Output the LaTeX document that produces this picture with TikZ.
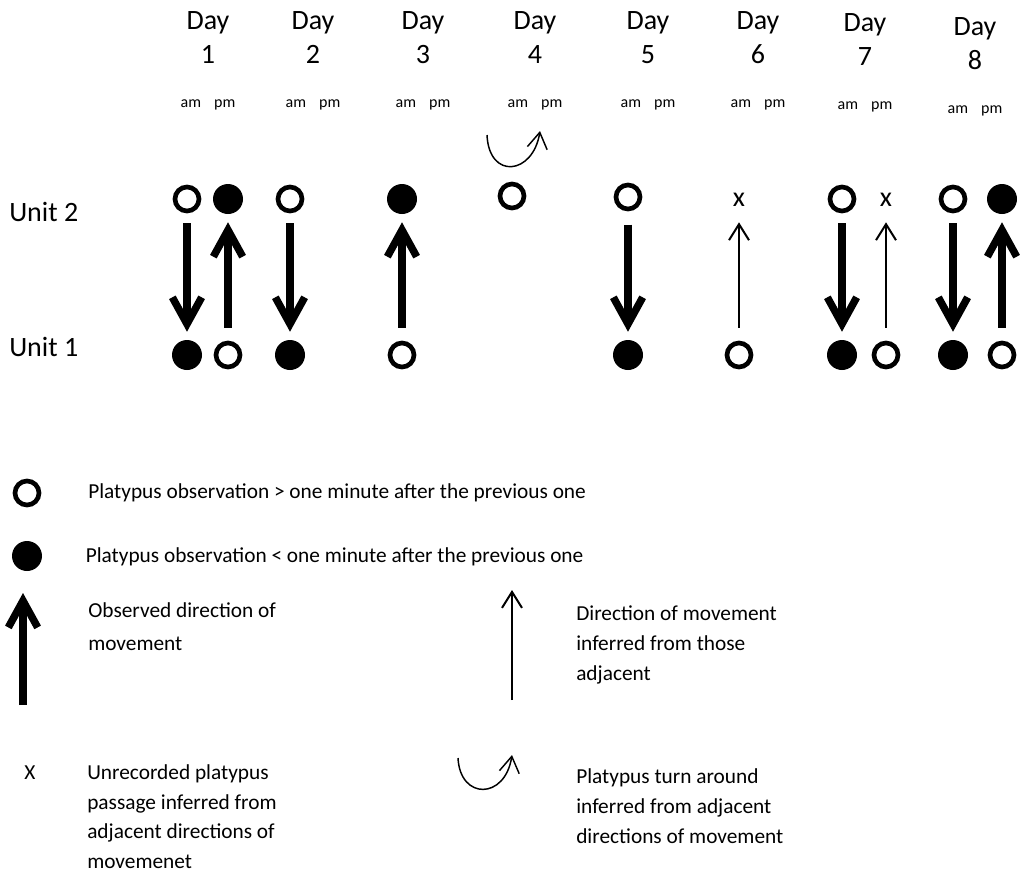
\documentclass[tikz,border=0pt]{standalone}
\usepackage{fontspec}
\setmainfont{Carlito}
\usetikzlibrary{arrows.meta}
\begin{document}
\begin{tikzpicture}[x=0.75pt,y=-0.75pt,
  opendot/.style={circle,draw,line width=3.5pt,minimum size=18pt,inner sep=0pt},
  fulldot/.style={circle,fill,minimum size=22.5pt,inner sep=0pt},
  daylbl/.style={anchor=base,font=\fontsize{21}{25}\selectfont,inner sep=0pt},
  ampm/.style={anchor=base,font=\fontsize{12}{14}\selectfont,inner sep=0pt},
  unitlbl/.style={anchor=base west,font=\fontsize{21}{25}\selectfont,inner sep=0pt},
  xmark/.style={anchor=base,font=\fontsize{21}{25}\selectfont,inner sep=0pt},
  leg/.style={anchor=base west,font=\fontsize{16}{22.5}\selectfont,inner sep=0pt},
  obs/.style={line width=5.6pt,-{Straight Barb[length=20pt,width=22pt]}},
  inf/.style={line width=1.5pt,-{Straight Barb[length=12pt,width=15pt]}},
  turn/.style={line width=1.1pt,-{Straight Barb[length=12pt,width=15pt]}},
  obsdown/.style={obs,shorten <=7.5pt,shorten >=6pt},
  obsup/.style={obs,shorten <=9.75pt,shorten >=6pt},
  infup/.style={inf,shorten <=9.75pt,shorten >=11.5pt},
]
\useasboundingbox (0,0) rectangle (1025,875);

% header
\foreach \n/\x/\b in {1/208/29, 2/313/29, 3/423/29, 4/535/29, 5/648/29, 6/758/29, 7/865/31.5, 8/975/35} {
  \node[daylbl] (day\n) at (\x,\b) {Day};
  \node[daylbl] (num\n) at (\x,\b+34) {\n};
  \node[ampm] (ap\n) at (\x,\b+78) {am\hspace{7pt} pm};
}

% unit labels
\node[unitlbl] (u2) at (9,221.7) {Unit 2};
\node[unitlbl] (u1) at (9,356.7) {Unit 1};

% day 1
\node[opendot] (a1t) at (187,199) {};
\node[fulldot] (a1b) at (187,355) {};
\draw[obsdown] (a1t) -- (a1b);
\node[fulldot] (p1t) at (228,199) {};
\node[opendot] (p1b) at (228,355) {};
\draw[obsup] (p1b) -- (p1t);
% day 2
\node[opendot] (a2t) at (290,199) {};
\node[fulldot] (a2b) at (290,355) {};
\draw[obsdown] (a2t) -- (a2b);
% day 3
\node[fulldot] (p3t) at (402,199) {};
\node[opendot] (p3b) at (402,355) {};
\draw[obsup] (p3b) -- (p3t);
% day 4
\node[opendot] (a4t) at (512,196) {};
\coordinate (ts) at (487,135);
\coordinate (te) at (540,131);
\draw[turn] (ts) .. controls (489,180) and (533,175) .. (te);
% day 5
\node[opendot] (a5t) at (628,197) {};
\node[fulldot] (a5b) at (628,355) {};
\draw[obsdown,shorten <=10pt] (a5t) -- (a5b);
% day 6
\node[xmark] (x6) at (739,206.7) {x};
\node[opendot] (p6b) at (739,355) {};
\draw[infup] (p6b) -- (x6);
% day 7
\node[opendot] (a7t) at (842,199) {};
\node[fulldot] (a7b) at (842,355) {};
\draw[obsdown] (a7t) -- (a7b);
\node[xmark] (x7) at (886,206.7) {x};
\node[opendot] (p7b) at (886,355) {};
\draw[infup] (p7b) -- (x7);
% day 8
\node[opendot] (a8t) at (953,199) {};
\node[fulldot] (a8b) at (953,355) {};
\draw[obsdown] (a8t) -- (a8b);
\node[fulldot] (p8t) at (1002,199) {};
\node[opendot] (p8b) at (1002,355) {};
\draw[obsup] (p8b) -- (p8t);

% legend
\node[opendot] (lo) at (27,493) {};
\node[leg] (t1) at (88,498) {Platypus observation > one minute after the previous one};
\node[fulldot] (lf) at (27,556) {};
\node[leg] (t2) at (85.5,562) {Platypus observation < one minute after the previous one};

\coordinate (la0) at (23,705);
\coordinate (la1) at (23,593);
\draw[obs] (la0) -- (la1);
\node[leg] (t3a) at (88,617) {Observed direction of};
\node[leg] (t3b) at (88,650) {movement};

\coordinate (li0) at (512,700);
\coordinate (li1) at (512,590);
\draw[inf] (li0) -- (li1);
\node[leg] (t4a) at (576,620) {Direction of movement};
\node[leg] (t4b) at (576,650) {inferred from those};
\node[leg] (t4c) at (576,680) {adjacent};

\node[leg,anchor=base] (lx) at (30,779) {X};
\node[leg] (t5a) at (87,779) {Unrecorded platypus};
\node[leg] (t5b) at (87,809) {passage inferred from};
\node[leg] (t5c) at (87,838.5) {adjacent directions of};
\node[leg] (t5d) at (87,868) {movemenet};

\coordinate (ls) at (458,758);
\coordinate (le) at (512,755);
\draw[turn] (ls) .. controls (460,800) and (505,800) .. (le);
\node[leg] (t6a) at (576,783) {Platypus turn around};
\node[leg] (t6b) at (576,813) {inferred from adjacent};
\node[leg] (t6c) at (576,843) {directions of movement};
\end{tikzpicture}
\end{document}
